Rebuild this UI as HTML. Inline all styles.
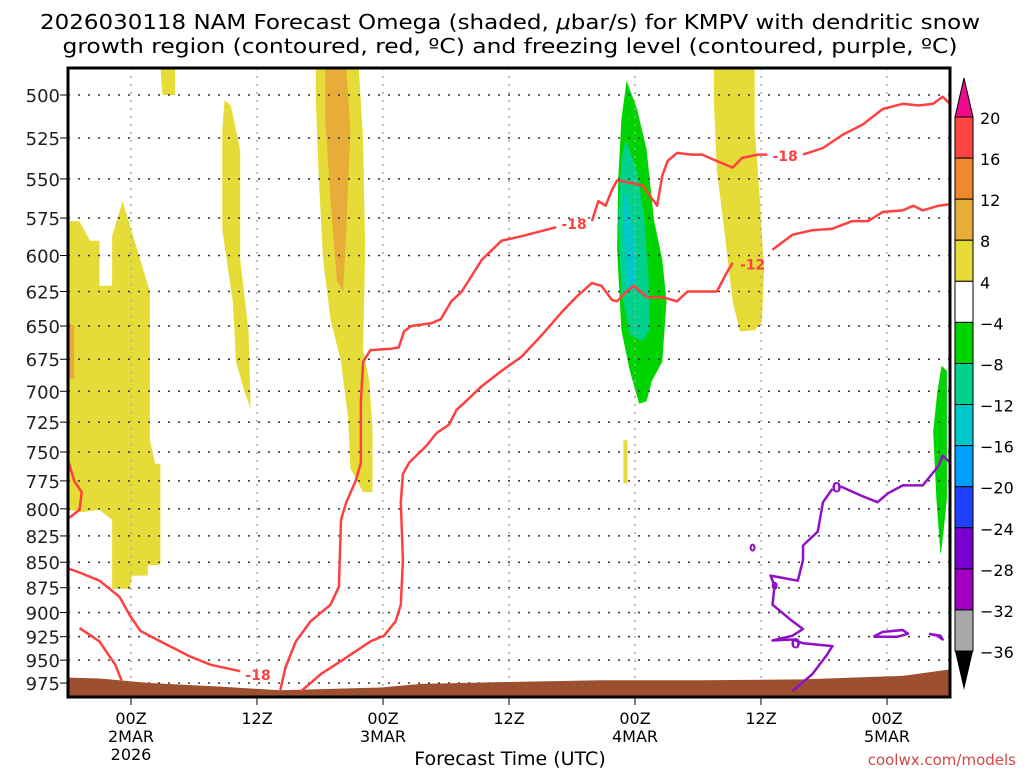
<!DOCTYPE html>
<html><head><meta charset="utf-8"><style>
body{margin:0;background:#fff;}
svg text{font-family:"DejaVu Sans","Liberation Sans",sans-serif;}
</style></head><body>
<svg id="c" width="1024" height="768" xmlns="http://www.w3.org/2000/svg">
<text x="510" y="29" font-size="20" text-anchor="middle" textLength="940" lengthAdjust="spacingAndGlyphs">2026030118 NAM Forecast Omega (shaded, <tspan font-style="italic">μ</tspan>bar/s) for KMPV with dendritic snow</text>
<text x="510" y="53" font-size="20" text-anchor="middle" textLength="895" lengthAdjust="spacingAndGlyphs">growth region (contoured, red, ºC) and freezing level (contoured, purple, ºC)</text>
<text x="510" y="765" font-size="19" text-anchor="middle">Forecast Time (UTC)</text>
<text x="1016" y="765" font-size="15" text-anchor="end" fill="#d04848">coolwx.com/models</text>
<g id="plot"></g>
</svg>
<script>
// ---- data ----
const pressureTicks=[500,525,550,575,600,625,650,675,700,725,750,775,800,825,850,875,900,925,950,975];
const timeTicks=[0,12,24,36,48,60,72];
const timeLabels=[["00Z","2MAR","2026"],["12Z"],["00Z","3MAR"],["12Z"],["00Z","4MAR"],["12Z"],["00Z","5MAR"]];
const cbLevels=[20,16,12,8,4,-4,-8,-12,-16,-20,-24,-28,-32,-36];
const cbColors=["#ff4444","#f08830","#e8ac38","#e6dc38","#ffffff","#00d400","#00d28c","#00c8c8","#00a0ff","#2040ff","#7800d0","#a000c0","#a8a8a8"];
const shadeYellowLeft=[[-6,577],[-4.9,577],[-3.9,590],[-3,590],[-3,621],[-1.8,621],[-1.8,587],[-0.8,564],[1.8,625],[1.8,740],[2.3,760],[2.8,760],[2.8,853],[1.6,853],[1.6,863],[0.1,863],[-0.1,876],[-1.8,876],[-1.8,810],[-3,801],[-4.7,803],[-6,801]];
const shadeOrangeLeft=[[-6,647],[-5.4,650],[-5.4,690],[-6,690]];
const shadeYellowTop=[[2.8,485],[4.2,485],[4.2,500],[3,500]];
const shadeYellowStreak=[[8.9,503],[9.5,506],[10.4,532],[10.4,603],[11.2,654],[11.4,714],[10.8,700],[10,677],[9.7,632],[8.7,583],[8.7,520]];
const shadeYellowBig=[[17.6,485],[21.7,485],[22.1,526],[22.3,596],[22.1,668],[22.7,692],[23,731],[23,785],[22.1,785],[20.9,764],[20.7,723],[20,677],[19,645],[18.3,603],[17.9,551],[17.6,503]];
const shadeOrangeBig=[[18.5,485],[20.5,485],[20.9,520],[20.5,583],[20.2,625],[19.6,617],[19,563],[18.5,514]];
const shadeGreenBlob=[[47.2,492],[48.2,508],[49.1,532],[49.8,576],[50.6,603],[51,632],[50.6,677],[49.6,692],[49.1,708],[48.4,710],[47.5,684],[46.7,653],[46.3,596],[46.4,551],[46.7,514]];
const shadeTealBlob=[[47.1,526],[48.2,545],[48.9,576],[49.3,617],[49.4,653],[48.7,661],[47.5,657],[46.7,625],[46.4,576],[46.7,539]];
const shadeCyanBlob=[[47.1,557],[47.9,583],[48.1,617],[47.7,625],[47.2,621],[46.8,570]];
const shadeYellowTiny=[[46.9,740],[47.3,740],[47.3,777],[46.9,777]];
const shadeYellowRight=[[55.5,485],[59.4,485],[59.4,520],[59.9,564],[60.3,610],[60.1,647],[59.4,653],[58,654],[57.3,632],[56.5,583],[55.8,545],[55.5,503]];
const shadeGreenRight=[[77.2,680],[77.7,684],[77.7,791],[77.3,829],[77.1,843],[76.7,791],[76.4,733],[76.8,700]];
const shadeGreenEdge=[[77.9,539],[78,539],[78,621],[77.9,621]];
const terrain=[[-6,969],[-3,970],[1.8,975],[8.5,979],[14.2,983],[23.8,980],[27.6,976],[35.2,974],[44.8,972],[54.4,972],[64,971],[73.6,967],[78,960]];
const redA=[[14.2,984],[14.7,958],[15.7,930],[17.1,909],[19,892],[19.8,874],[20,810],[20.5,794],[21.4,775],[21.9,759],[21.9,708],[22.1,677],[22.8,668],[24.8,667],[25.5,666],[26,654],[26.7,650],[28.6,648],[29.5,645],[30.5,632],[31.5,625],[33.4,603],[35.3,590],[37.2,587],[40.5,581]];
const redA2=[[43.9,577],[44.5,564],[45.2,567],[45.8,557],[46.3,551],[47.2,552],[48.7,554],[50.1,567],[50.6,548],[51.1,539],[52,534],[53.4,535],[54.4,535],[55.8,539],[57.3,543],[58.2,537],[59.7,535],[60.6,535]];
const redA3=[[64,535],[65.9,531],[67.8,523],[69.7,517],[71.6,508],[73.5,505],[75,506],[76.4,505],[77.3,501],[78,505]];
const redB=[[16.2,984],[18.1,965],[20,951],[22.8,930],[24.1,924],[25.2,909],[25.7,892],[25.9,848],[25.7,794],[25.9,769],[26.5,759],[28.1,745],[29.1,734],[30.3,727],[31,715],[31.9,708],[33.4,696],[35.3,684],[37.2,673],[39.1,657],[41,640],[42.4,629],[43.9,619],[44.8,621],[45.8,631],[46.3,632],[47.2,625],[47.9,621],[49.1,629],[50.6,629],[52,632],[53,625],[54.4,625],[55.8,625],[56.8,611],[57.3,605]];
const redB2=[[61.1,596],[63,586],[64.9,583],[66.8,582],[68.7,577],[70.2,577],[71.6,571],[73.5,570],[74.5,567],[75.4,570],[76.9,567],[78,566]];
const redC=[[-6,856],[-4.9,860],[-3,868],[-1.1,884],[-0.1,903],[0.9,919],[2.8,930],[5.6,946],[7.6,955],[10.4,962]];
const redD=[[-4.9,916],[-3,930],[-1.5,955],[-0.9,972]];
const redE=[[-6,757],[-5.4,775],[-4.7,785],[-4.9,801],[-6,809]];
const purpleMain=[[63,984],[64.9,965],[66.3,944],[66.8,935],[64,932],[63,928],[61.1,929],[63,924],[64,917],[63,909],[61.1,892],[61.3,873],[60.9,863],[63.5,868],[64,848],[64,834],[65.4,821],[65.9,794],[66.8,782]];
const purpleMain2=[[67.6,780],[69.5,788],[71.1,794],[72.1,786],[73.5,779],[75.4,779],[76.9,762],[77.3,753],[78,759]];
const purpleLoopA=[[70.7,925],[71.6,920],[73.5,918],[74,922],[73,925],[70.7,925]];
const purpleLoopB=[[76,922],[77.1,924],[77.3,928],[76.8,924],[76,922]];
const labels=[{t:"-18",h:42.2,p:579,c:"#ff4040"},{t:"-18",h:62.3,p:536,c:"#ff4040"},{t:"-12",h:59.2,p:606,c:"#ff4040"},{t:"-18",h:12.1,p:966,c:"#ff4040"},{t:"0",h:67.2,p:781,c:"#9010c8"},{t:"0",h:63.3,p:932,c:"#9010c8"}];
// ---- axes ----
const L=68,R=950,T=68,B=697;
const X=h=>L+(h+6)*10.5;
const Y=p=>95+880.5*Math.log(p/500);
const NS="http://www.w3.org/2000/svg";
const g=document.getElementById('plot');
function mk(tag,at,parent){const e=document.createElementNS(NS,tag);for(const k in at)e.setAttribute(k,at[k]);(parent||g).appendChild(e);return e;}
const pts=a=>a.map(d=>X(d[0]).toFixed(1)+','+Y(d[1]).toFixed(1)).join(' ');
function poly(a,fill,name){const e=mk('polygon',{points:pts(a),fill:fill});

}
function line(a,col,name){const e=mk('polyline',{points:pts(a),fill:'none',stroke:col,'stroke-width':2.5,'stroke-linejoin':'round'});

}
poly(shadeYellowLeft,"#e6dc38","omega-yellow-left");
poly(shadeOrangeLeft,"#e8ac38","omega-orange-left");
poly(shadeYellowTop,"#e6dc38","omega-yellow-top");
poly(shadeYellowStreak,"#e6dc38","omega-yellow-streak");
poly(shadeYellowBig,"#e6dc38","omega-yellow-big");
poly(shadeOrangeBig,"#e8ac38","omega-orange-big");
poly(shadeGreenBlob,"#00d400","omega-green-blob");
poly(shadeTealBlob,"#00d28c","omega-teal-blob");
poly(shadeCyanBlob,"#00c8c8","omega-cyan-blob");
poly(shadeYellowTiny,"#e6dc38","omega-yellow-tiny");
poly(shadeYellowRight,"#e6dc38","omega-yellow-right");
poly(shadeGreenRight,"#00d400","omega-green-right");
poly(shadeGreenEdge,"#00d400","omega-green-edge");
// grid
pressureTicks.forEach(p=>{const e=mk('line',{x1:L,x2:R,y1:Y(p),y2:Y(p),stroke:'#333','stroke-width':1.5,'stroke-dasharray':'2,8'});


const tk=mk('line',{x1:L-8,x2:L,y1:Y(p),y2:Y(p),stroke:'#000','stroke-width':1});


const t=mk('text',{x:L-8,y:Y(p)+7,'font-size':18,'text-anchor':'end',fill:'#222'});t.textContent=p;

});
timeTicks.forEach((h,i)=>{const e=mk('line',{x1:X(h),x2:X(h),y1:T,y2:B,stroke:'#aaa','stroke-width':1.5,'stroke-dasharray':'2,6'});


const tk=mk('line',{x1:X(h),x2:X(h),y1:B,y2:B+8,stroke:'#000','stroke-width':1});


timeLabels[i].forEach((s,j)=>{const t=mk('text',{x:X(h),y:724+j*18,'font-size':16,'text-anchor':'middle'});t.textContent=s;

});});
// terrain
const terr=terrain.concat([[78,990],[-6,990]]);
poly(terr,"#9c5030","terrain");
// contours
line(redA,"#ff4040","dgz-contour-a");line(redA2,"#ff4040","dgz-contour-a2");line(redA3,"#ff4040","dgz-contour-a3");
line(redB,"#ff4040","dgz-contour-b");line(redB2,"#ff4040","dgz-contour-b2");
line(redC,"#ff4040","dgz-contour-c");line(redD,"#ff4040","dgz-contour-d");line(redE,"#ff4040","dgz-contour-e");
line(purpleMain,"#9010c8","freezing-level-main");line(purpleMain2,"#9010c8","freezing-level-main2");
line(purpleLoopA,"#9010c8","freezing-level-loop-a");line(purpleLoopB,"#9010c8","freezing-level-loop-b");
[[59.2,836],[61.3,873]].forEach(d=>{const e=mk('ellipse',{cx:X(d[0]),cy:Y(d[1]),rx:2,ry:3,fill:'none',stroke:'#9010c8','stroke-width':2});

});
labels.forEach(l=>{const t=mk('text',{x:X(l.h),y:Y(l.p)+5,'font-size':14,'font-weight':'bold','text-anchor':'middle',fill:l.c});t.textContent=l.t;

});
// frame
const fr=mk('rect',{x:L,y:T,width:R-L,height:B-T,fill:'none',stroke:'#000','stroke-width':3});


// colorbar
const cx=955,cw=18,cy0=117,bh=(651-117)/13;
cbColors.forEach((c,i)=>{const e=mk('rect',{x:cx,y:cy0+i*bh,width:cw,height:bh,fill:c,stroke:'#000','stroke-width':1});

});
const up=mk('polygon',{points:`${cx},${cy0} ${cx+cw},${cy0} ${cx+cw/2},78`,fill:'#ee0a8c',stroke:'#000','stroke-width':1});


const dn=mk('polygon',{points:`${cx},651 ${cx+cw},651 ${cx+cw/2},690`,fill:'#000'});


cbLevels.forEach((v,i)=>{const t=mk('text',{x:980,y:cy0+i*bh+7,'font-size':16});t.textContent=(v<0?'\u2212':'')+Math.abs(v);

});
</script>
</body></html>
